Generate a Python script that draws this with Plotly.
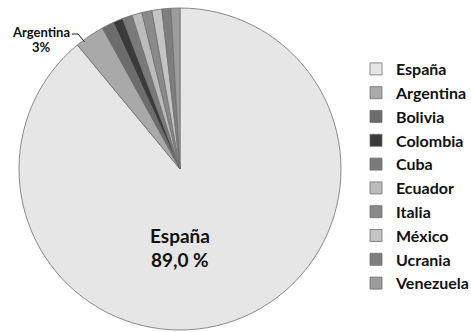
import math
import plotly.graph_objects as go

W, H = 471, 332

# Data
countries = ["España", "Argentina", "Bolivia", "Colombia", "Cuba",
             "Ecuador", "Italia", "México", "Ucrania", "Venezuela"]
shares = [89.0, 3.0, 1.2, 1.0, 1.0, 1.0, 1.0, 1.0, 0.9, 0.9]
colors = ["#e6e6e6", "#a9a9a9", "#6c6c6c", "#3a3a3a", "#7a7a7a",
          "#bcbcbc", "#8a8a8a", "#c4c4c4", "#7e7e7e", "#9c9c9c"]

FONT = "Lato, 'Liberation Sans', Arial, sans-serif"

# pie geometry in pixels
cx, cy, r = 180, 169, 161

fig = go.Figure(go.Pie(
    labels=countries,
    values=shares,
    sort=False,
    direction="clockwise",
    rotation=0,
    textinfo="none",
    hoverinfo="label+percent",
    marker=dict(colors=colors, line=dict(color="#6f6f6f", width=0.8)),
    domain=dict(x=[(cx - r) / W, (cx + r) / W],
                y=[(H - cy - r) / H, (H - cy + r) / H]),
))


def px(x):
    return x / W


def py(y):
    return 1 - y / H


total = sum(shares)
esp = shares[0] / total * 100
arg = shares[1] / total * 100

label_font_big = dict(family=FONT, size=19, color="#111", weight="bold")
label_font_small = dict(family=FONT, size=13, color="#111", weight="bold")

annotations = [
    dict(x=px(cx), y=py(235), xref="paper", yref="paper", showarrow=False,
         xanchor="center", yanchor="middle",
         text=countries[0], font=label_font_big),
    dict(x=px(cx), y=py(259), xref="paper", yref="paper", showarrow=False,
         xanchor="center", yanchor="middle",
         text=f"{esp:.1f} %".replace(".", ","), font=label_font_big),
    dict(x=px(41), y=py(32), xref="paper", yref="paper", showarrow=False,
         xanchor="center", yanchor="middle",
         text=countries[1], font=label_font_small),
    dict(x=px(41), y=py(47), xref="paper", yref="paper", showarrow=False,
         xanchor="center", yanchor="middle",
         text=f"{arg:.0f}%", font=label_font_small),
]

# leader line from the Argentina label to its slice edge
start = shares[0] / total * 360
ang = math.radians(start + 0.25 * shares[1] / total * 360)
ex = cx + (r - 2) * math.sin(ang)
ey = cy - (r - 2) * math.cos(ang)
shapes = [
    dict(type="path", xref="paper", yref="paper",
         path=f"M {px(72)} {py(34)} L {px(78)} {py(34)} L {px(ex)} {py(ey)}",
         line=dict(color="#222", width=1)),
]

fig.update_layout(
    width=W, height=H,
    margin=dict(l=0, r=0, t=0, b=0, autoexpand=False),
    paper_bgcolor="white",
    plot_bgcolor="white",
    annotations=annotations,
    shapes=shapes,
    showlegend=True,
    legend=dict(
        x=px(356), y=py(52), xanchor="left", yanchor="top",
        font=dict(family=FONT, size=16, color="#111", weight="bold"),
        bgcolor="rgba(0,0,0,0)",
        traceorder="normal",
    ),
)

fig.write_html("out.html")
